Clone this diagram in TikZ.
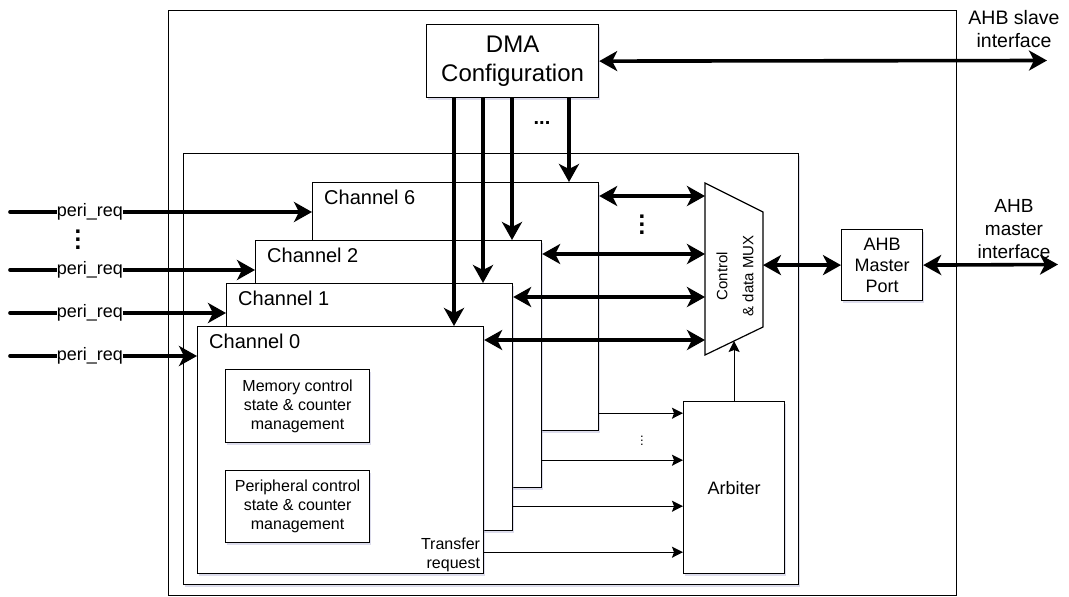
\documentclass[tikz,border=0pt]{standalone}
\usepackage{fontspec}
\setmainfont{Liberation Sans}
\usetikzlibrary{arrows.meta, shadows, calc}

\newcommand{\dotcol}[1]{\vbox{\baselineskip=#1\lineskiplimit=0pt\hbox{.}\hbox{.}\hbox{.}}}

\begin{document}
\begin{tikzpicture}[
  x=1pt, y=-1pt,
  >={Stealth[length=18pt,width=20pt,inset=5pt]},
  framebox/.style={
    draw=black,
    line width=1.2pt,
    rectangle,
    anchor=north west,
    inner sep=0pt
  },
  blockbox/.style={
    framebox,
    fill=white,
    align=center,
    drop shadow={shadow xshift=1.5pt, shadow yshift=-2pt, fill=blue!30!gray!60, opacity=0.35}
  },
  bus/.style={line width=3.6pt},
  ctrlarrow/.style={line width=1.2pt, -{Stealth[length=11pt,width=11pt,inset=2pt]}},
  chlabel/.style={anchor=base west, inner sep=0pt, font=\fontsize{20}{24}\selectfont},
  reqlabel/.style={fill=white, inner sep=0pt, font=\fontsize{18}{21}\selectfont},
  dotlabel/.style={inner sep=0pt, font=\fontsize{24}{24}\selectfont\bfseries}
]
  \useasboundingbox (0,0) rectangle (1069,597);

  % --- Outer frames ---
  \node[framebox, minimum width=788pt, minimum height=585pt] (dmac) at (168,10) {};
  \node[blockbox, minimum width=615pt, minimum height=431pt] (chblk) at (183,153) {};

  % --- Configuration and master port ---
  \node[blockbox, minimum width=172pt, minimum height=73pt,
        font=\fontsize{24}{29}\selectfont] (cfg) at (426,24) {DMA\\Configuration};
  \node[blockbox, minimum width=81pt, minimum height=71pt,
        font=\fontsize{18}{21}\selectfont] (amp) at (841,229) {AHB\\Master\\Port};

  % --- Channels, back to front ---
  \node[blockbox, minimum width=286pt, minimum height=248pt] (ch6) at (312,182) {};
  \node[blockbox, minimum width=286pt, minimum height=247pt] (ch2) at (255,240) {};
  \node[blockbox, minimum width=286pt, minimum height=247pt] (ch1) at (226,283) {};
  \node[blockbox, minimum width=286pt, minimum height=247pt] (ch0) at (197,326) {};

  \foreach \c/\n in {ch6/6, ch2/2, ch1/1, ch0/0}
    \node[chlabel] (\c-lab) at ([xshift=12pt,yshift=-22pt]\c.north west) {Channel \n};

  \node[blockbox, minimum width=144pt, minimum height=73pt,
        font=\fontsize{16}{19}\selectfont] (mem) at (225,369) {Memory control\\state \& counter\\management};
  \node[blockbox, minimum width=144pt, minimum height=72pt,
        font=\fontsize{16}{19}\selectfont] (per) at (225,470) {Peripheral control\\state \& counter\\management};
  \node[anchor=south east, align=right, inner sep=0pt, font=\fontsize{16}{19}\selectfont]
       (xferreq) at ([xshift=-4pt,yshift=2pt]ch0.south east) {Transfer\\request};

  % --- MUX and arbiter ---
  \draw[line width=1.2pt, fill=white] (705,183) -- (763,212) -- (763,327) -- (705,355) -- cycle;
  \coordinate (muxl) at (705,269);
  \coordinate (muxr) at (763,269);
  \coordinate (muxs) at (734,341);
  \node[rotate=90, align=center, inner sep=0pt, font=\fontsize{15}{26}\selectfont]
       (mux) at (735,276) {Control\\\& data MUX};

  \node[blockbox, minimum width=101pt, minimum height=172pt,
        font=\fontsize{18}{21}\selectfont] (arb) at (683,401) {};
  \node[font=\fontsize{18}{21}\selectfont] (arblab) at (arb.center) {Arbiter};

  % --- Configuration buses down to channels ---
  \foreach \dx/\c in {28/ch0, 57/ch1, 86/ch2, 143/ch6}
    \draw[bus, ->] ([xshift=\dx pt]cfg.south west) -- ([xshift=\dx pt]cfg.south west |- \c.north);
  \node[dotlabel, font=\fontsize{20}{20}\selectfont\bfseries] (cfgdots) at (542,123) {...};

  % --- Slave interface ---
  \coordinate (slvend) at (1047,60.5);
  \draw[bus, <->] (cfg.east) -- (slvend);
  \node[align=center, font=\fontsize{19.5}{23}\selectfont] (slvlab) at (1014,29) {AHB slave\\interface};

  % --- Channels <-> MUX ---
  \foreach \c in {ch6, ch2, ch1, ch0}
    \draw[bus, <->] ([yshift=-14pt]\c.north east) -- ([yshift=-14pt]\c.north east -| muxl);
  \node[dotlabel] (busdots) at (642,225) {\dotcol{8pt}};

  % --- MUX <-> master port <-> master interface ---
  \draw[bus, <->] (muxr |- amp.west) -- (amp.west);
  \coordinate (mstend) at (1058,264.5);
  \draw[bus, <->] (amp.east) -- (mstend);
  \node[align=center, font=\fontsize{19}{23}\selectfont] (mstlab) at (1014,229) {AHB\\master\\interface};

  % --- Transfer requests to arbiter ---
  \foreach \c/\dy in {ch6/18, ch2/28, ch1/25, ch0/22}
    \draw[ctrlarrow] ([yshift=\dy pt]\c.south east) -- ([yshift=\dy pt]\c.south east -| arb.west);
  \node[inner sep=0pt, font=\fontsize{13}{13}\selectfont] (arbdots) at (642,441) {\dotcol{4pt}};
  \draw[ctrlarrow] (arb.north) -- (arb.north |- muxs);

  % --- Peripheral requests ---
  \coordinate (reqx) at (10,0);
  \foreach \c in {ch6, ch2, ch1, ch0} {
    \draw[bus, line cap=round, ->] ([yshift=-30pt]\c.north west -| reqx) -- ([yshift=-30pt]\c.north west);
    \node[reqlabel] (\c-req) at ([xshift=80pt,yshift=-30pt]\c.north west -| reqx) {peri\_req};
  }
  \node[dotlabel] (reqdots) at (78,240) {\dotcol{8pt}};

\end{tikzpicture}
\end{document}
